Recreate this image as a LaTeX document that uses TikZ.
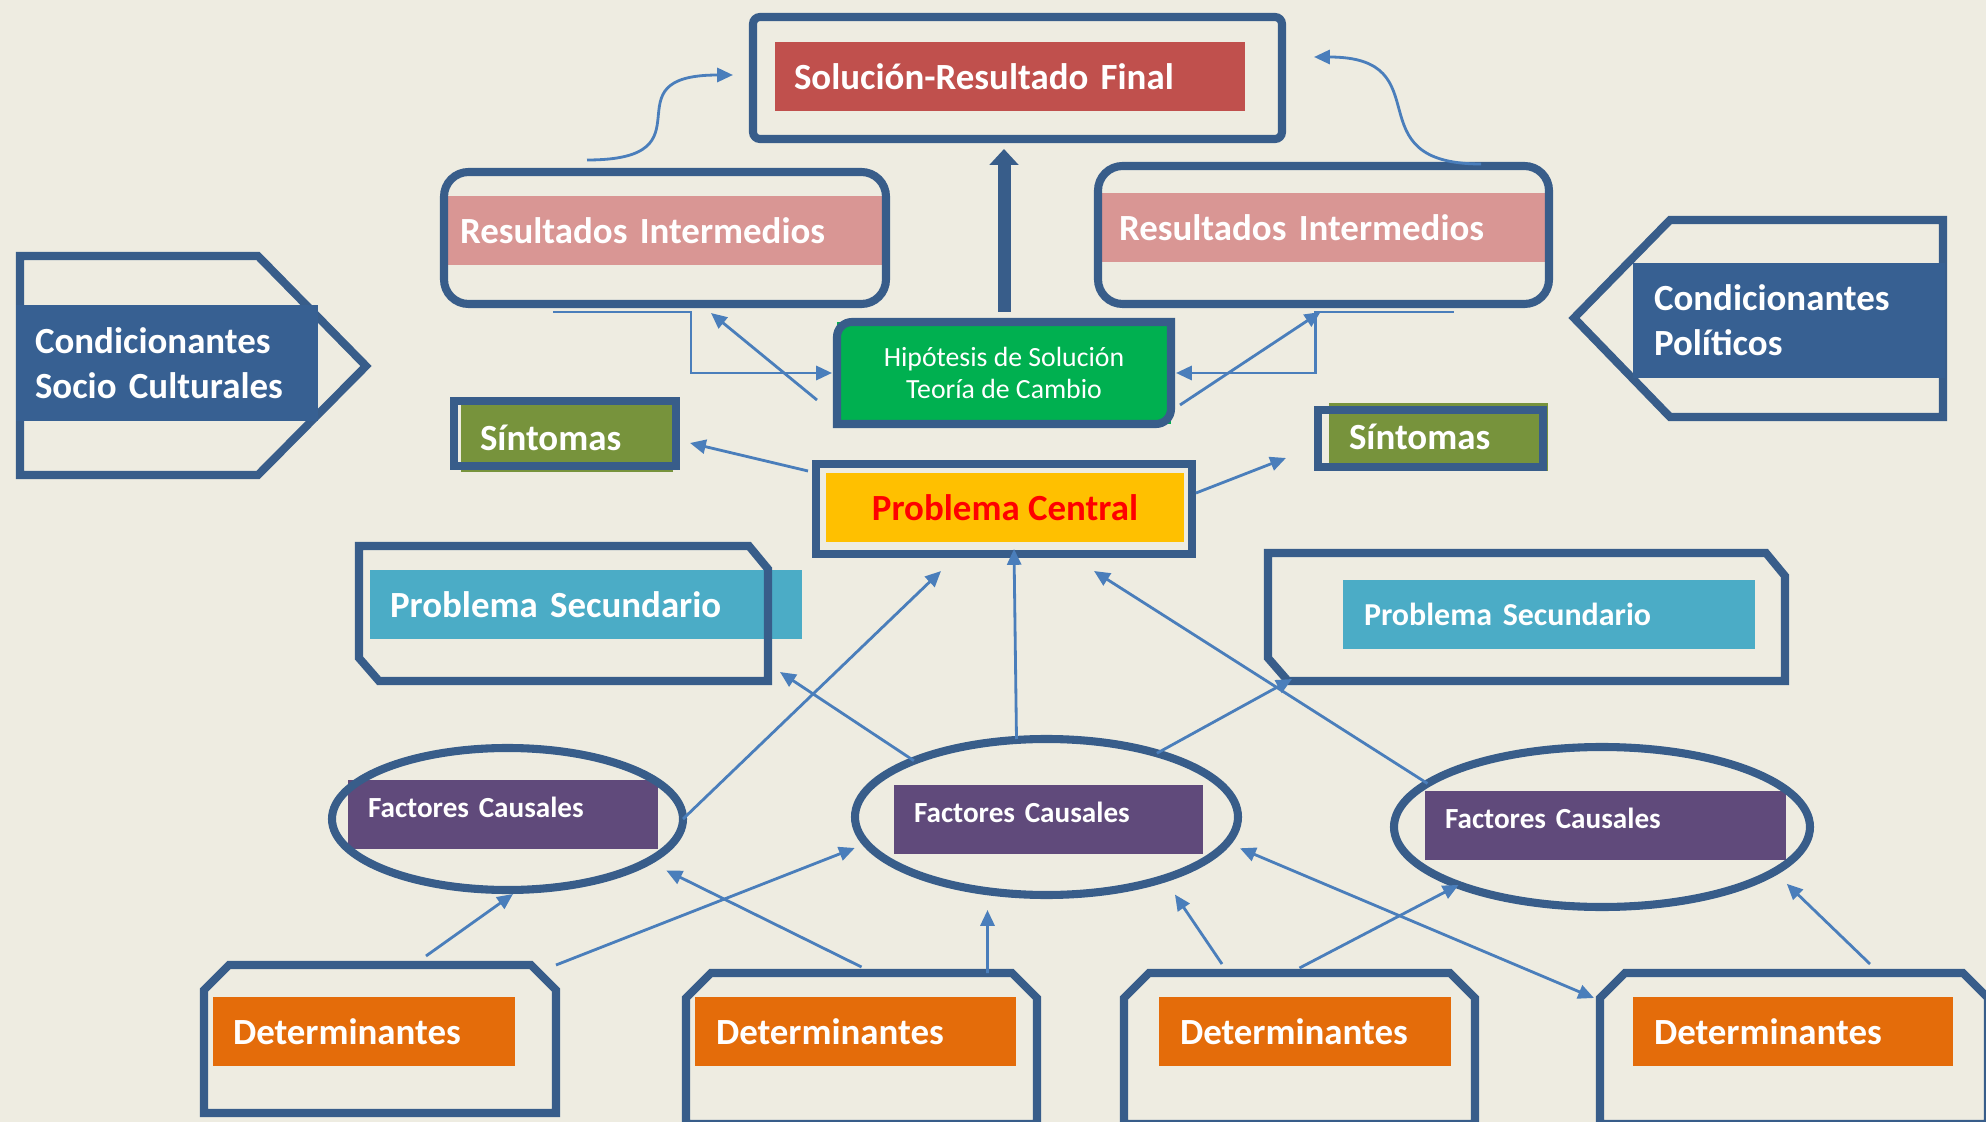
\documentclass[tikz,border=0pt]{standalone}
\usepackage{fontspec}
\setmainfont{Carlito}
\usetikzlibrary{calc,shapes,arrows.meta,positioning}
\definecolor{bgcol}{HTML}{EEECE1}
\definecolor{framecol}{HTML}{385D8A}
\definecolor{conncol}{HTML}{4A7EBB}
\definecolor{solred}{HTML}{C0504D}
\definecolor{ripink}{HTML}{D99694}
\definecolor{hipgreen}{HTML}{00B050}
\definecolor{condblue}{HTML}{376092}
\definecolor{sinolive}{HTML}{77933C}
\definecolor{pcyellow}{HTML}{FFC000}
\definecolor{pscyan}{HTML}{4BACC6}
\definecolor{fcpurple}{HTML}{604A7B}
\definecolor{detorange}{HTML}{E46C0A}
\newcommand\bandfont{\fontsize{10.5}{12.8}\selectfont\bfseries}
\newcommand\smallband{\fontsize{9.1}{11}\selectfont\bfseries}
\newcommand\factfont{\fontsize{8.3}{10}\selectfont\bfseries}
\newcommand\hipfont{\fontsize{7.9}{9.1}\selectfont}

\begin{document}
\begin{tikzpicture}[x=0.1mm, y=-0.1mm, >={Triangle[length=4.5pt,width=4pt]},
	frame/.style={draw=framecol, line width=2.3pt, outer sep=0pt},
	slot/.style={inner sep=0pt, outer sep=0pt},
	band/.style={anchor=west, text=white, align=left, inner ysep=0pt, outer sep=0pt, minimum height=.69cm, font=\bandfont},
	conn/.style={color=conncol, line width=.8pt},
	pole/.style={color=framecol, line width=3.7pt, -{Triangle[length=4.5pt,width=8pt]}, shorten >=.1cm}]
		\fill[bgcol] (0,0) rectangle (1986,1122);
		\useasboundingbox (0,0) rectangle (1986,1122);
		
		% condicionantes
		\draw[frame] (20,256) -- (258,256) -- (366,366) -- (258,475) -- (20,475) -- cycle;
		\node[band, fill=condblue, minimum height=1.16cm, text width=2.64cm, inner xsep=.19cm] (socio) at (16,363) {Condicionantes\\Socio Culturales};
		\draw[frame] (1943,220) -- (1943,417) -- (1670,417) -- (1574,318) -- (1670,220) -- cycle;
		\node[band, fill=condblue, minimum height=1.15cm, text width=2.70cm, inner xsep=.21cm] (poli) at (1633,320.5) {Condicionantes\\Políticos};
		
		% resultado final e intermedios
		\node[band, fill=solred, text width=4.32cm, inner xsep=.19cm] (sol) at (775,76.5) {Solución-Resultado Final};
		\node[frame, rounded corners=2pt, minimum width=5.29cm, minimum height=1.22cm] (solf) at (1017.5,78) {};
		\node[band, fill=ripink, text width=4.11cm, inner xsep=.15cm] (ril) at (445,230.5) {Resultados Intermedios};
		\node[frame, rounded corners=7pt, minimum width=4.42cm, minimum height=1.32cm] (rilf) at (665,238) {};
		\node[band, fill=ripink, text width=4.11cm, inner xsep=.2cm] (rir) at (1099,227.5) {Resultados Intermedios};
		\node[frame, rounded corners=7pt, minimum width=4.51cm, minimum height=1.38cm] (rirf) at (1323.5,235) {};
		
		% hipotesis
		\node[fill=hipgreen, text=white, font=\hipfont, align=center, minimum width=3.34cm, minimum height=1.02cm, outer sep=0pt] (hip) at (1004,373) {Hipótesis de Solución\\Teoría de Cambio};
		\draw[frame] (hip.south west) -- ([yshift=-.15cm]hip.north west) arc[start angle=180, end angle=90, radius=.15cm] -- (hip.north east) -- ([yshift=.15cm]hip.south east) arc[start angle=0, end angle=-90, radius=.15cm] -- cycle;
		
		% sintomas y problema central
		\node[band, fill=sinolive, minimum height=.68cm, text width=1.74cm, inner xsep=.19cm] (sinl) at (461,438) {Síntomas};
		\node[frame, minimum width=2.22cm, minimum height=.65cm] (sinlf) at (565,433.5) {};
		\node[band, fill=sinolive, minimum height=.68cm, text width=1.79cm, inner xsep=.2cm] (sinr) at (1329,437) {Síntomas};
		\node[frame, minimum width=2.25cm, minimum height=.57cm] (sinrf) at (1430.5,438.5) {};
		\node[fill=pcyellow, text=red, font=\bandfont, minimum width=3.58cm, minimum height=.69cm, inner sep=0pt] (pc) at (1005,507.5) {Problema Central};
		\node[frame, minimum width=3.76cm, minimum height=.9cm] (pcf) at (1004,509) {};
		
		% problemas secundarios
		\node[band, fill=pscyan, text width=3.92cm, inner xsep=.2cm] (psl) at (370,604.5) {Problema Secundario};
		\node[band, fill=pscyan, font=\smallband, text width=3.70cm, inner xsep=.21cm] (psr) at (1343,614.5) {Problema Secundario};
		\node[slot, minimum width=4.09cm, minimum height=1.35cm] (pslf) at (563.5,613.5) {};
		\node[slot, minimum width=5.17cm, minimum height=1.28cm] (psrf) at (1526.5,617) {};
		\foreach \n in {pslf,psrf}
		\draw[frame] ([xshift=-.19cm]\n.north east) -- ([yshift=-.23cm]\n.north east) -- (\n.south east) -- ([xshift=.2cm]\n.south west) -- ([yshift=.23cm]\n.south west) -- (\n.north west) -- cycle;
		
		% factores causales
		\foreach \n/\x/\y/\w in {fac1/348/814.5/2.70, fac2/894/819/2.69, fac3/1425/825/3.21}
		\node[band, fill=fcpurple, font=\factfont, text depth=.14cm, text width=\w cm, inner xsep=.2cm] (\n) at (\x,\y) {Factores Causales};
		\node[frame, ellipse, minimum width=3.51cm, minimum height=1.42cm] (fc1) at (507.5,819) {};
		\node[frame, ellipse, minimum width=3.83cm, minimum height=1.56cm] (fc2) at (1046.5,817) {};
		\node[frame, ellipse, minimum width=4.16cm, minimum height=1.60cm] (fc3) at (1602,827) {};
		
		% determinantes
		\foreach \n/\x/\w/\p in {d1/213/2.62/.2, d2/695/2.79/.21, d3/1159/2.50/.21, d4/1633/2.78/.21}
		\node[band, fill=detorange, text width=\w cm, inner xsep=\p cm] (\n) at (\x,1031.5) {Determinantes};
		\foreach \n/\x/\y/\w/\h in {det1/380/1039/3.52/1.48, det2/861.5/1048.5/3.51/1.51, det3/1299.5/1048.5/3.51/1.51, det4/1794/1048.5/3.88/1.51}
		\node[slot, minimum width=\w cm, minimum height=\h cm] (\n) at (\x,\y) {};
		\foreach \n in {det1,det2,det3,det4}
		\draw[frame] (\n.south west) -- ([yshift=-.25cm]\n.north west) -- ([xshift=.25cm]\n.north west) -- ([xshift=-.25cm]\n.north east) -- ([yshift=-.25cm]\n.north east) -- (\n.south east) -- cycle;
		
		% conectores superiores
		\draw[pole] ([yshift=.1cm]hip.north) -- (hip.north |- solf.south);
		\draw[conn,->] ([xshift=-.78cm,yshift=.12cm]rilf.north) .. controls +(1.3cm,0cm) and +(-1.3cm,0cm) .. ([xshift=-.2cm,yshift=.03cm]solf.west);
		\draw[conn,->] ([xshift=1.575cm,yshift=.02cm]rirf.north) .. controls +(-1.3cm,0cm) and +(1.3cm,0cm) .. ([xshift=.32cm,yshift=.21cm]solf.east);
		\draw[conn,->,shorten >=.05cm] ([xshift=-1.12cm,yshift=-.08cm]rilf.south) -- ++(1.38cm,0cm) |- (hip.west);
		\draw[conn,->,shorten >=.05cm] ([xshift=1.3cm,yshift=-.08cm]rirf.south) -- ++(-1.38cm,0cm) |- (hip.east);
		\draw[conn,->] ([xshift=-.2cm,yshift=-.27cm]hip.west) -- ([xshift=.46cm,yshift=-.09cm]rilf.south);
		\draw[conn,->] ([xshift=.09cm,yshift=-.32cm]hip.east) -- ([xshift=-.03cm,yshift=-.08cm]rirf.south);
		\draw[conn,->] ([xshift=-.08cm,yshift=-.07cm]pcf.north west) -- ([xshift=.14cm,yshift=.23cm]sinlf.south east);
		\draw[conn,->] ([xshift=.04cm,yshift=.16cm]pcf.east) -- ([xshift=-.32cm,yshift=-.195cm]sinrf.west);
		
		% factores hacia problemas
		\draw[conn,->] (fc1.east) -- ([xshift=-.63cm,yshift=-.17cm]pcf.south);
		\draw[conn,->] ([xshift=-.3cm]fc2.north) -- ([xshift=.1cm,yshift=.05cm]pcf.south);
		\draw[conn,->] (fc3.166) -- ([xshift=.9cm,yshift=-.17cm]pcf.south);
		\draw[conn,->] (fc2.157) -- ([xshift=.12cm,yshift=.09cm]pslf.south east);
		\draw[conn,->] (fc2.30) -- ([xshift=.24cm,yshift=.02cm]psrf.south west);
		
		% determinantes hacia factores
		\draw[conn,->] ([xshift=.46cm,yshift=.09cm]det1.north) -- ([xshift=.055cm,yshift=-.04cm]fc1.south);
		\draw[conn,->] (det1.north east) -- ([xshift=-.16cm]fc2.190);
		\draw[conn,->] ([yshift=.06cm]det2.north) -- ([xshift=.22cm,yshift=-.07cm]fc1.-18);
		\draw[conn,->] ([xshift=1.26cm]det2.north) -- ([xshift=-.59cm,yshift=-.15cm]fc2.south);
		\draw[conn,->] ([xshift=-.775cm,yshift=.09cm]det3.north) -- ([xshift=.21cm,yshift=-.13cm]fc2.-31);
		\draw[conn,->] ([yshift=.05cm]det3.north) -- (fc3.202);
		\draw[conn,<->] ([xshift=.15cm,yshift=-.03cm]fc2.-9) -- ([xshift=-.06cm,yshift=-.25cm]det4.north west);
		\draw[conn,->] ([xshift=.76cm,yshift=.09cm]det4.north) -- ([xshift=.22cm,yshift=-.07cm]fc3.-17);
	\end{tikzpicture}
\end{document}
